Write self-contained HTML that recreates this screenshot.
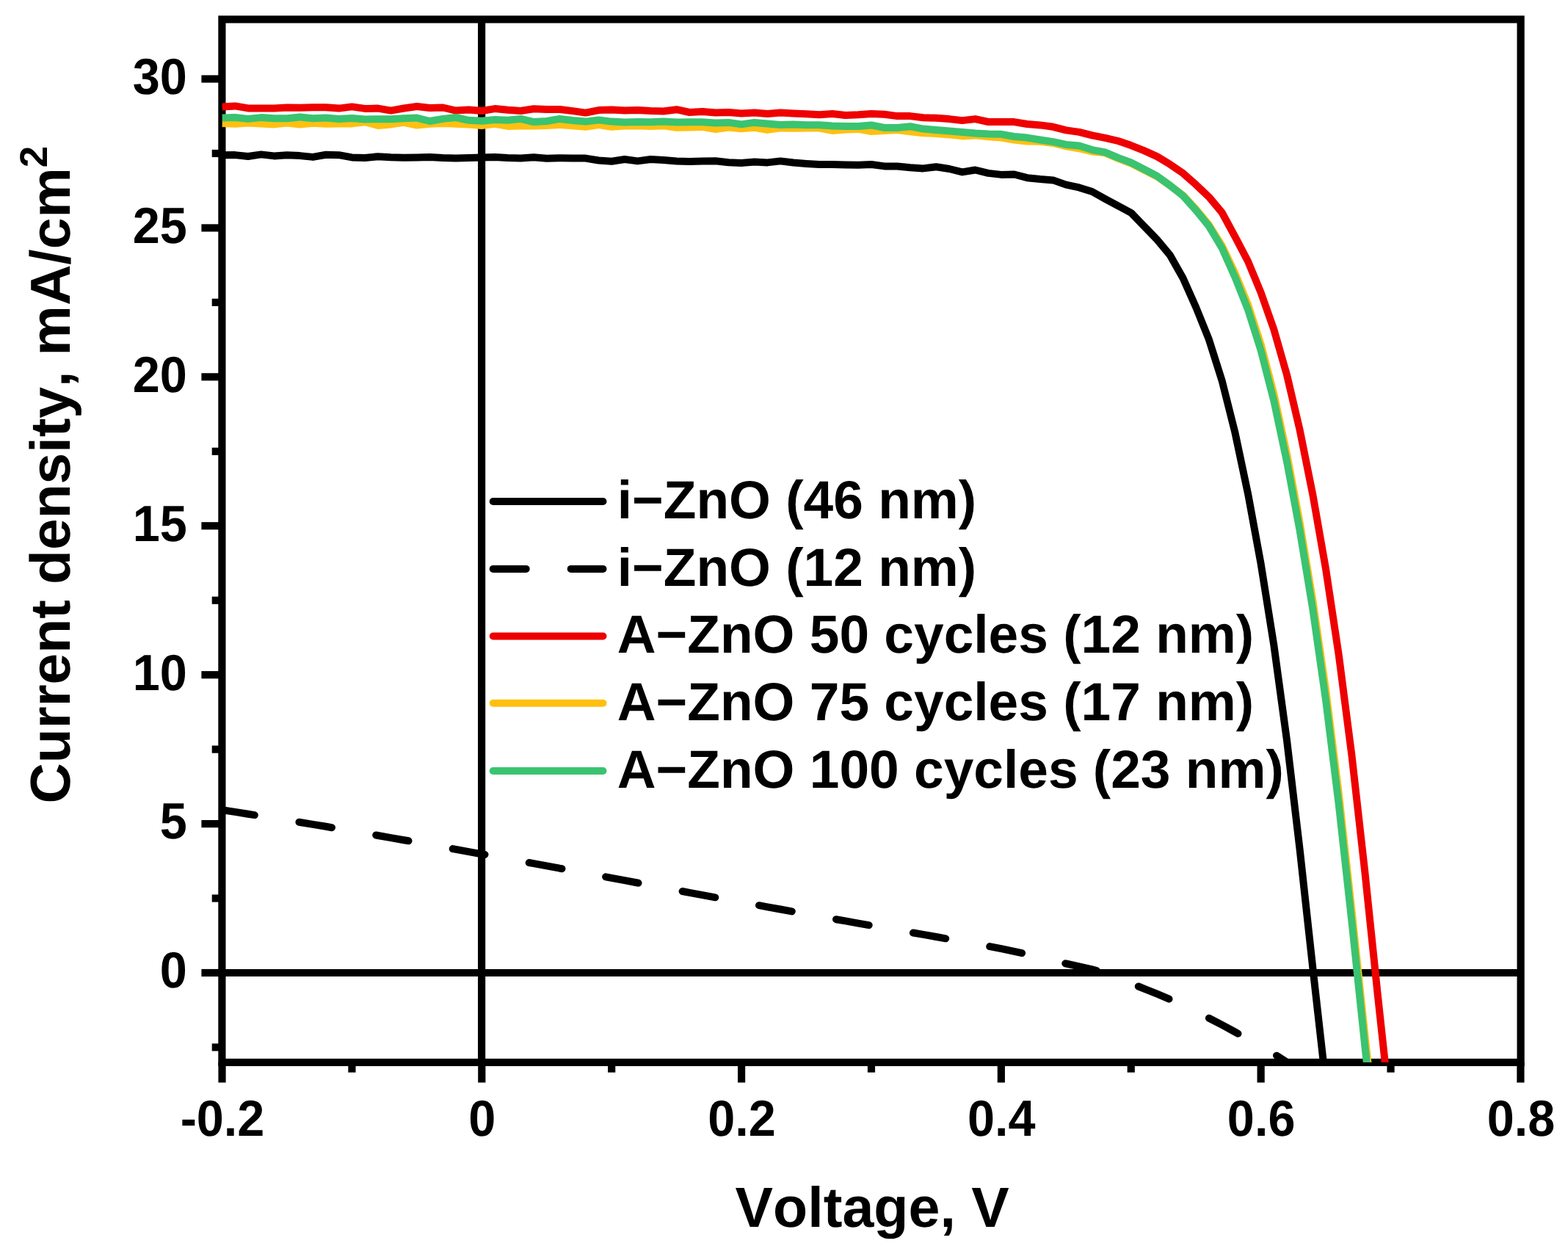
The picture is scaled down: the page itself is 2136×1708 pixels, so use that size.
<!DOCTYPE html>
<html lang="en"><head><meta charset="utf-8"><title>J-V curves</title>
<style>html,body{margin:0;padding:0;background:#fff;overflow:hidden}svg{display:block}text{font-family:"Liberation Sans", Arial, Helvetica, sans-serif;font-weight:bold;fill:#000;font-kerning:none;text-rendering:geometricPrecision}</style></head><body>
<svg width="2136" height="1708" viewBox="0 0 2136 1708">
<rect width="2136" height="1708" fill="#fff"/>
<defs><clipPath id="pc"><rect x="302.4" y="26.4" width="1769.2" height="1420.6"/></clipPath></defs>
<g stroke="#000" stroke-width="10.2" fill="none" stroke-linecap="butt">
<rect x="302.4" y="26.4" width="1769.2" height="1420.6"/>
<line x1="302.4" y1="1325" x2="2071.6" y2="1325"/>
<line x1="656.1" y1="26.4" x2="656.1" y2="1447"/>
<line x1="274.4" y1="1325.00" x2="302.4" y2="1325.00"/>
<line x1="274.4" y1="1122.09" x2="302.4" y2="1122.09"/>
<line x1="274.4" y1="919.17" x2="302.4" y2="919.17"/>
<line x1="274.4" y1="716.25" x2="302.4" y2="716.25"/>
<line x1="274.4" y1="513.34" x2="302.4" y2="513.34"/>
<line x1="274.4" y1="310.43" x2="302.4" y2="310.43"/>
<line x1="274.4" y1="107.51" x2="302.4" y2="107.51"/>
<line x1="288.7" y1="1426.46" x2="302.4" y2="1426.46"/>
<line x1="288.7" y1="1223.54" x2="302.4" y2="1223.54"/>
<line x1="288.7" y1="1020.63" x2="302.4" y2="1020.63"/>
<line x1="288.7" y1="817.71" x2="302.4" y2="817.71"/>
<line x1="288.7" y1="614.80" x2="302.4" y2="614.80"/>
<line x1="288.7" y1="411.88" x2="302.4" y2="411.88"/>
<line x1="288.7" y1="208.97" x2="302.4" y2="208.97"/>
<line x1="302.52" y1="1447" x2="302.52" y2="1474.5"/>
<line x1="656.30" y1="1447" x2="656.30" y2="1474.5"/>
<line x1="1010.08" y1="1447" x2="1010.08" y2="1474.5"/>
<line x1="1363.86" y1="1447" x2="1363.86" y2="1474.5"/>
<line x1="1717.64" y1="1447" x2="1717.64" y2="1474.5"/>
<line x1="2071.42" y1="1447" x2="2071.42" y2="1474.5"/>
<line x1="479.41" y1="1447" x2="479.41" y2="1460.7"/>
<line x1="833.19" y1="1447" x2="833.19" y2="1460.7"/>
<line x1="1186.97" y1="1447" x2="1186.97" y2="1460.7"/>
<line x1="1540.75" y1="1447" x2="1540.75" y2="1460.7"/>
<line x1="1894.53" y1="1447" x2="1894.53" y2="1460.7"/>
</g>
<g clip-path="url(#pc)" fill="none" stroke-width="10" stroke-linejoin="round">
<path d="M302.5,211.2 320.2,211.1 337.9,213.0 355.6,210.4 373.3,212.4 391.0,211.2 408.7,212.1 426.3,213.9 444.0,210.8 461.7,211.2 479.4,214.4 497.1,214.9 514.8,213.2 532.5,214.2 550.2,214.8 567.9,214.5 585.5,214.0 603.2,214.9 620.9,215.4 638.6,215.0 656.3,214.4 674.0,213.9 691.7,214.9 709.4,215.4 727.1,214.2 744.7,215.8 762.4,215.2 780.1,215.6 797.8,215.6 815.5,218.5 833.2,219.8 850.9,217.0 868.6,219.4 886.3,217.0 903.9,217.9 921.6,219.4 939.3,220.0 957.0,219.6 974.7,219.2 992.4,221.2 1010.1,221.9 1027.8,220.6 1045.5,221.4 1063.1,219.4 1080.8,221.5 1098.5,222.9 1116.2,224.0 1133.9,224.0 1151.6,224.4 1169.3,224.8 1187.0,224.0 1204.7,226.4 1222.3,226.5 1240.0,228.2 1257.7,229.4 1275.4,227.2 1293.1,230.0 1310.8,234.4 1328.5,231.5 1346.2,235.9 1363.9,237.9 1381.5,237.5 1399.2,242.2 1416.9,244.0 1434.6,245.4 1452.3,251.6 1470.0,255.4 1487.7,261.0 1505.4,270.9 1523.1,280.4 1540.8,289.8 1558.4,307.9 1576.1,326.2 1593.8,347.5 1611.5,378.8 1629.2,418.5 1646.9,462.4 1664.6,518.4 1682.3,588.6 1700.0,672.2 1717.6,767.7 1735.3,878.5 1753.0,1008.2 1770.7,1157.6 1788.4,1319.0 1806.1,1476.0 1823.8,1615.7" stroke="#000"/>
<path d="M297.4,1103.2 302.5,1103.2 320.2,1105.9 337.9,1108.7 346.8,1110.1 M407.4,1119.8 408.7,1120.0 426.3,1122.9 444.0,1125.8 452.0,1127.2 M512.2,1137.5 514.8,1138.0 532.5,1141.1 550.2,1144.2 556.5,1145.3 M616.7,1156.1 620.9,1156.9 638.6,1160.1 656.3,1163.3 660.5,1164.0 M720.7,1175.0 727.1,1176.1 744.7,1179.4 762.4,1182.7 765.5,1183.2 M825.1,1194.3 833.2,1195.9 850.9,1199.2 868.6,1202.5 869.5,1202.7 M929.6,1214.0 939.3,1215.8 957.0,1219.1 974.3,1222.3 M1034.0,1233.2 1045.5,1235.3 1063.1,1238.5 1078.8,1241.4 M1139.0,1252.2 1151.6,1254.4 1169.3,1257.6 1183.7,1260.1 M1243.9,1270.5 1257.7,1272.9 1275.4,1276.0 1288.2,1278.3 M1348.2,1289.1 1363.9,1292.1 1381.5,1295.8 1392.1,1298.2 M1451.3,1312.3 1452.3,1312.5 1470.0,1316.3 1487.7,1320.3 1493.8,1322.0 M1550.8,1343.5 1558.4,1346.6 1576.1,1353.7 1592.5,1360.7 M1646.9,1386.7 1664.6,1395.9 1682.3,1405.5 1686.5,1407.8 M1739.0,1437.8 1753.0,1446.8 1770.7,1458.9 1785.0,1468.4" stroke="#000" stroke-linecap="round"/>
<path d="M302.5,145.6 320.2,144.4 337.9,147.4 355.6,147.5 373.3,147.5 391.0,146.4 408.7,146.8 426.3,146.2 444.0,146.2 461.7,147.6 479.4,145.4 497.1,147.9 514.8,147.6 532.5,150.6 550.2,147.5 567.9,145.0 585.5,147.0 603.2,146.5 620.9,150.6 638.6,149.4 656.3,151.0 674.0,148.1 691.7,149.8 709.4,151.0 727.1,148.2 744.7,149.0 762.4,148.9 780.1,151.1 797.8,153.6 815.5,150.1 833.2,149.5 850.9,150.5 868.6,150.1 886.3,151.0 903.9,151.5 921.6,149.2 939.3,153.0 957.0,152.1 974.7,153.5 992.4,153.1 1010.1,154.5 1027.8,153.5 1045.5,154.9 1063.1,153.4 1080.8,154.4 1098.5,155.2 1116.2,156.2 1133.9,155.0 1151.6,157.0 1169.3,156.2 1187.0,155.0 1204.7,155.8 1222.3,158.1 1240.0,158.1 1257.7,160.2 1275.4,160.8 1293.1,162.1 1310.8,164.1 1328.5,162.1 1346.2,166.0 1363.9,166.0 1381.5,166.1 1399.2,169.0 1416.9,170.4 1434.6,172.8 1452.3,177.4 1470.0,179.9 1487.7,184.4 1505.4,187.8 1523.1,192.0 1540.8,198.1 1558.4,205.1 1576.1,213.1 1593.8,223.8 1611.5,235.9 1629.2,251.6 1646.9,268.3 1664.6,289.5 1682.3,322.2 1700.0,355.9 1717.6,398.3 1735.3,448.6 1753.0,510.5 1770.7,585.9 1788.4,674.2 1806.1,775.2 1823.8,892.4 1841.5,1029.4 1859.2,1186.5 1876.8,1355.2 1894.5,1518.2" stroke="#EE0000"/>
<path d="M302.5,168.1 320.2,168.8 337.9,167.5 355.6,168.4 373.3,169.4 391.0,167.5 408.7,169.6 426.3,167.8 444.0,168.8 461.7,168.5 479.4,168.4 497.1,166.2 514.8,170.9 532.5,169.4 550.2,166.9 567.9,170.6 585.5,168.8 603.2,168.1 620.9,168.8 638.6,169.6 656.3,171.0 674.0,168.8 691.7,171.9 709.4,171.5 727.1,171.5 744.7,171.0 762.4,170.0 780.1,171.2 797.8,172.8 815.5,170.0 833.2,172.8 850.9,171.5 868.6,171.2 886.3,171.9 903.9,171.2 921.6,173.8 939.3,173.5 957.0,172.9 974.7,176.0 992.4,173.5 1010.1,175.2 1027.8,173.8 1045.5,176.9 1063.1,174.4 1080.8,174.8 1098.5,174.4 1116.2,174.6 1133.9,177.9 1151.6,176.5 1169.3,175.9 1187.0,179.0 1204.7,178.1 1222.3,177.1 1240.0,179.4 1257.7,181.2 1275.4,181.9 1293.1,183.4 1310.8,185.4 1328.5,184.4 1346.2,186.2 1363.9,187.5 1381.5,190.6 1399.2,192.5 1416.9,192.8 1434.6,195.0 1452.3,199.4 1470.0,202.2 1487.7,206.5 1505.4,208.3 1523.1,215.8 1540.8,222.5 1558.4,231.6 1576.1,240.4 1593.8,252.7 1611.5,265.9 1629.2,285.0 1646.9,306.3 1664.6,334.6 1682.3,371.7 1700.0,414.7 1717.6,468.8 1735.3,536.2 1753.0,618.3 1770.7,712.3 1788.4,818.2 1806.1,939.9 1823.8,1081.0 1841.5,1240.8 1859.2,1408.4 1876.8,1570.2" stroke="#FFC012"/>
<path d="M302.5,160.6 320.2,160.0 337.9,161.9 355.6,160.1 373.3,161.2 391.0,161.2 408.7,159.6 426.3,161.2 444.0,160.4 461.7,161.9 479.4,161.0 497.1,162.5 514.8,162.2 532.5,162.2 550.2,161.2 567.9,160.6 585.5,165.0 603.2,161.9 620.9,160.0 638.6,163.8 656.3,164.8 674.0,163.1 691.7,163.8 709.4,161.9 727.1,166.1 744.7,165.0 762.4,161.9 780.1,164.0 797.8,165.6 815.5,163.4 833.2,165.6 850.9,166.5 868.6,165.9 886.3,166.2 903.9,165.4 921.6,166.6 939.3,166.2 957.0,166.2 974.7,167.5 992.4,166.9 1010.1,169.4 1027.8,166.9 1045.5,168.5 1063.1,170.0 1080.8,169.4 1098.5,170.2 1116.2,170.2 1133.9,171.4 1151.6,172.1 1169.3,172.1 1187.0,170.4 1204.7,174.0 1222.3,173.9 1240.0,172.2 1257.7,175.6 1275.4,177.1 1293.1,178.4 1310.8,179.9 1328.5,181.6 1346.2,182.5 1363.9,182.8 1381.5,186.0 1399.2,187.6 1416.9,190.5 1434.6,193.1 1452.3,196.9 1470.0,198.5 1487.7,204.1 1505.4,207.4 1523.1,214.9 1540.8,221.5 1558.4,230.5 1576.1,239.7 1593.8,252.6 1611.5,266.6 1629.2,286.3 1646.9,308.1 1664.6,337.8 1682.3,377.2 1700.0,421.6 1717.6,477.1 1735.3,545.8 1753.0,628.6 1770.7,722.9 1788.4,830.3 1806.1,953.9 1823.8,1096.1 1841.5,1255.7 1859.2,1423.6 1876.8,1584.8" stroke="#3AC370"/>
</g>
<text transform="translate(254.9,1345.40) scale(1,1.04)" font-size="66.6" text-anchor="end">0</text>
<text transform="translate(254.9,1142.49) scale(1,1.04)" font-size="66.6" text-anchor="end">5</text>
<text transform="translate(254.9,939.57) scale(1,1.04)" font-size="66.6" text-anchor="end">10</text>
<text transform="translate(254.9,736.65) scale(1,1.04)" font-size="66.6" text-anchor="end">15</text>
<text transform="translate(254.9,533.74) scale(1,1.04)" font-size="66.6" text-anchor="end">20</text>
<text transform="translate(254.9,330.83) scale(1,1.04)" font-size="66.6" text-anchor="end">25</text>
<text transform="translate(254.9,127.91) scale(1,1.04)" font-size="66.6" text-anchor="end">30</text>
<text transform="translate(303.02,1546.8) scale(1,1.04)" font-size="66.6" text-anchor="middle">-0.2</text>
<text transform="translate(656.80,1546.8) scale(1,1.04)" font-size="66.6" text-anchor="middle">0</text>
<text transform="translate(1010.58,1546.8) scale(1,1.04)" font-size="66.6" text-anchor="middle">0.2</text>
<text transform="translate(1364.36,1546.8) scale(1,1.04)" font-size="66.6" text-anchor="middle">0.4</text>
<text transform="translate(1718.14,1546.8) scale(1,1.04)" font-size="66.6" text-anchor="middle">0.6</text>
<text transform="translate(2071.92,1546.8) scale(1,1.04)" font-size="66.6" text-anchor="middle">0.8</text>
<text x="1188.2" y="1670.6" font-size="77.2" text-anchor="middle">Voltage, V</text>
<text transform="translate(94.8,1094.6) rotate(-90)" font-size="76.8">Current density, mA/cm<tspan dy="-31" font-size="52.8">2</tspan></text>
<g fill="none" stroke-width="10" stroke-linecap="round">
<line x1="671.7" y1="683" x2="821.5" y2="683" stroke="#000"/>
<line x1="671.7" y1="774.9" x2="821.5" y2="774.9" stroke="#000" stroke-dasharray="45 61"/>
<line x1="671.7" y1="866.5" x2="821.5" y2="866.5" stroke="#EE0000"/>
<line x1="671.7" y1="957.8" x2="821.5" y2="957.8" stroke="#FFC012"/>
<line x1="671.7" y1="1050" x2="821.5" y2="1050" stroke="#3AC370"/>
</g>
<text x="840.8" y="705.7" font-size="73.1">i−ZnO (46 nm)</text>
<text x="840.8" y="797.6" font-size="73.1">i−ZnO (12 nm)</text>
<text x="840.8" y="889.2" font-size="73.1">A−ZnO 50 cycles (12 nm)</text>
<text x="840.8" y="980.5" font-size="73.1">A−ZnO 75 cycles (17 nm)</text>
<text x="840.8" y="1072.7" font-size="73.1">A−ZnO 100 cycles (23 nm)</text>
</svg></body></html>
